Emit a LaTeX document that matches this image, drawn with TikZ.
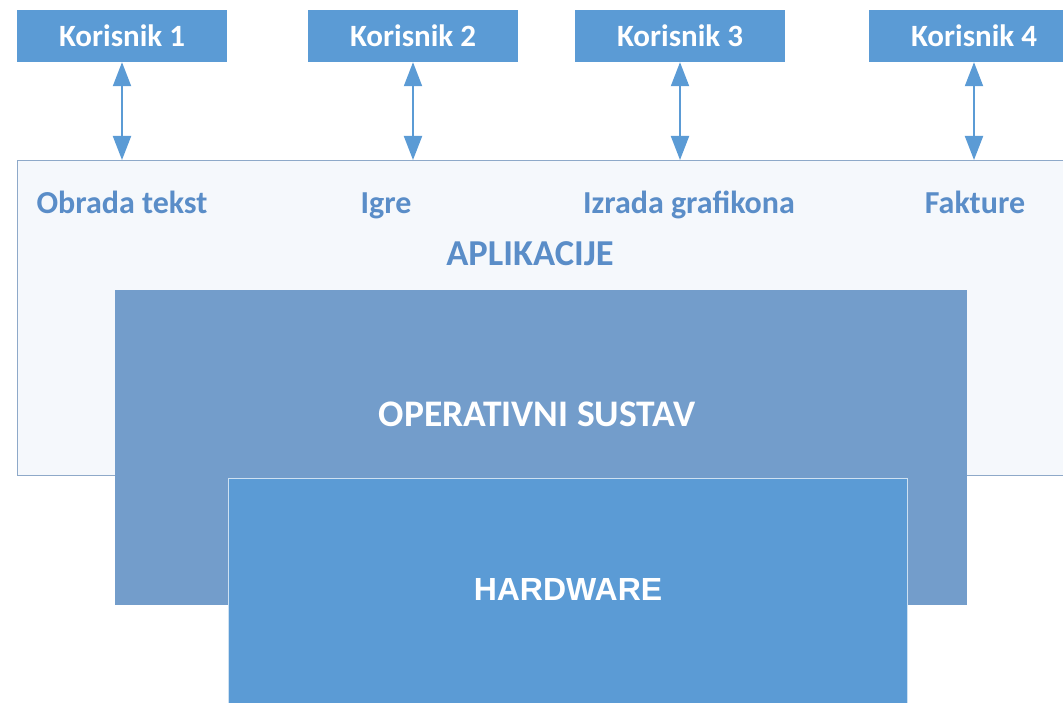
\documentclass[tikz,border=0pt]{standalone}
\usepackage{fontspec}
\setmainfont{Carlito}
\newfontfamily\hwfont{Liberation Sans}
\usetikzlibrary{arrows.meta}

\definecolor{userblue}{HTML}{5B9BD5}
\definecolor{osblue}{HTML}{739DCB}
\definecolor{apptext}{HTML}{5A8DC8}
\definecolor{appfill}{HTML}{F5F8FC}
\definecolor{appline}{HTML}{8EA9C9}

\tikzset{
  user/.style={fill=userblue, text=white, inner sep=0pt,
    minimum width=210pt, minimum height=52pt,
    font=\bfseries\fontsize{31}{33}\selectfont},
  link/.style={userblue, line width=2pt,
    {Triangle[width=18pt,length=24pt]}-{Triangle[width=18pt,length=24pt]}},
  applabel/.style={anchor=base, text=apptext,
    font=\bfseries\fontsize{32}{34}\selectfont},
  layer/.style={anchor=north west, inner sep=0pt},
  layertext/.style={text=white, font=\bfseries\fontsize{37.5}{40}\selectfont}
}

\begin{document}
\begin{tikzpicture}[x=1pt,y=-1pt]
  \useasboundingbox (0,0) rectangle (1063,703);
  \clip (0,0) rectangle (1063,703);

  % users
  \node[user] (k1) at (122,36) {Korisnik 1};
  \node[user] (k2) at (413,36) {Korisnik 2};
  \node[user] (k3) at (680,36) {Korisnik 3};
  \node[user] (k4) at (974,36) {Korisnik 4};

  % application layer
  \node[layer, draw=appline, line width=1.2pt, fill=appfill,
    minimum width=1080pt, minimum height=315pt] (app) at (17,160) {};
  \node[applabel] (a1) at (122,214) {Obrada tekst};
  \node[applabel] (a2) at (386,214) {Igre};
  \node[applabel] (a3) at (689,214) {Izrada grafikona};
  \node[applabel] (a4) at (975,214) {Fakture};
  \node[applabel, font=\bfseries\fontsize{36.5}{38}\selectfont] (apl) at (530,266) {APLIKACIJE};

  \foreach \k in {k1,k2,k3,k4}
    \draw[link] (\k.south) -- (\k.south |- app.north);

  % operating system
  \node[layer, fill=osblue, minimum width=852pt, minimum height=315pt]
    (os) at (115,290) {};
  \node[layertext] (ostext) at (537,414) {OPERATIVNI SUSTAV};

  % hardware
  \node[layer, draw=white!70!userblue, line width=1.2pt, fill=userblue,
    minimum width=679pt, minimum height=260pt] (hw) at (228,478) {};
  \node[layertext, font=\hwfont\bfseries\fontsize{32}{34}\selectfont]
    (hwtext) at (568,589) {HARDWARE};
\end{tikzpicture}
\end{document}
